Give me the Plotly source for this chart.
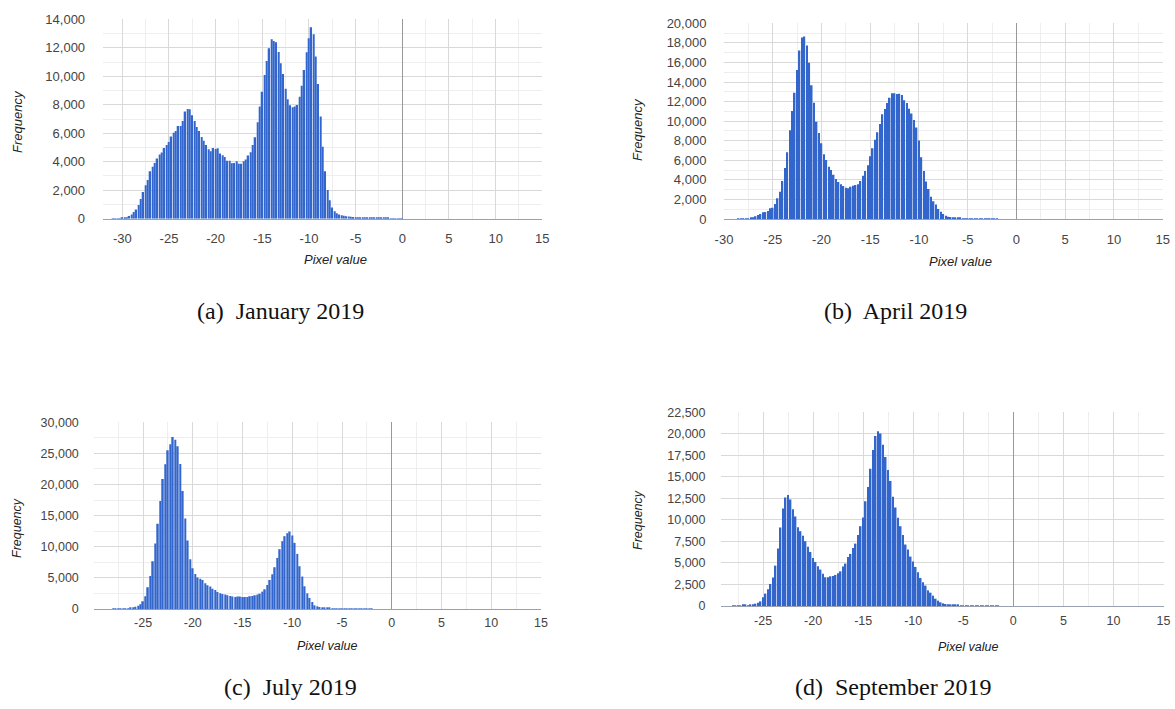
import plotly.graph_objects as go

W, H = 1175, 709
BIN_WIDTH = 0.25

# ---- data (bin counts, 0.25-wide bins, first bin centre given by *_start) ----
jan_start = -31.0
jan_counts = [10, 10, 20, 20, 30,
              50, 100, 190, 300, 470, 650, 960, 1380, 1870, 2340,
              2720, 3330, 3650, 3910, 4220, 4500, 4640, 4960, 5180, 5390,
              5780, 6040, 6160, 6510, 6510, 6860, 7520, 7700, 7680, 7260,
              6860, 6440, 6160, 5740, 5480, 5180, 4870, 4730, 4960, 4890,
              4940, 4570, 4450, 4330, 4070, 4070, 3890, 3910, 4030, 3860,
              3860, 4030, 4150, 4430, 4660, 5180, 5710, 6770, 7870, 8920,
              10090, 11080, 11970, 12600, 12480, 12390, 11710, 10910, 10160, 9130,
              8380, 7960, 7820, 7870, 7990, 8570, 9340, 10440, 11690, 12670,
              13440, 12950, 11380, 9460, 7170, 5060, 3330, 2010,
              1300, 780, 520, 380, 300, 250, 210, 180, 160, 140,
              125, 110, 100, 90, 80, 70, 65, 60, 55, 50,
              45, 40, 38, 35, 32, 30, 28, 25, 22, 20, 18, 15]

apr_start = -28.5
apr_counts = [10, 15, 20,
              30, 70, 100, 170, 270, 410, 510, 680, 720, 820,
              1090, 1160, 1530, 2110, 2790, 3880, 5210, 6810, 9060, 11040,
              12910, 15230, 17210, 18540, 18640, 17720, 15980, 13660, 11890, 9950,
              8790, 7730, 6610, 6030, 5350, 5010, 4530, 4090, 3780, 3540,
              3370, 3200, 3130, 3300, 3410, 3480, 3540, 3880, 4430, 4910,
              5490, 6410, 7220, 8110, 8860, 9710, 10700, 11240, 11860, 12400,
              12850, 12850, 12780, 12810, 12670, 12130, 11860, 11280, 10770, 10120,
              9340, 8010, 6300, 4910, 3820, 3070, 2280, 1810, 1470, 1020,
              750, 510, 340, 240, 200, 170, 140, 100, 100, 70,
              60, 50, 45, 40, 35, 30, 28, 25, 22, 20, 18, 15, 12, 10]

jul_start = -28.0
jul_counts = [20, 25, 30, 40,
              50, 50, 100, 160, 210, 380, 540, 750, 1230, 2040,
              3490, 5310, 7680, 10520, 13690, 17340, 20880, 23240, 25500, 26460,
              27640, 27210, 26140, 23300, 18950, 14550, 11000, 8000, 6550, 5640,
              5050, 4880, 4670, 4130, 3810, 3600, 3270, 3060, 2740, 2520,
              2420, 2310, 2200, 2090, 1990, 1930, 1990, 1990, 1930, 1930,
              1930, 2040, 2090, 2200, 2310, 2470, 2790, 3170, 3860, 4670,
              5580, 6710, 8210, 9610, 10900, 11700, 12180, 12450, 11810, 10630,
              8860, 6870, 5210, 3650, 2520, 1770, 1130, 590, 430, 320,
              270, 210, 160, 160, 110, 100, 100, 80,
              70, 60, 55, 50, 45, 40, 35, 30, 28, 25, 20, 18, 15]

sep_start = -28.0
sep_counts = [30, 60, 80,
              40, 120, 160, 80, 120, 160, 270, 390, 540, 1010,
              1440, 1940, 2560, 3300, 4690, 6670, 9120, 11330, 12610, 12880,
              12370, 11250, 10400, 9150, 8690, 8150, 7530, 6870, 6280, 5590,
              5120, 4620, 4230, 3760, 3340, 3340, 3450, 3490, 3610, 3800,
              4030, 4580, 4930, 5700, 6050, 6750, 7250, 8260, 9270, 10280,
              12180, 13810, 15940, 18110, 19740, 20290, 20050, 18740, 17300, 15790,
              14510, 12680, 11440, 10240, 9270, 8260, 7140, 6560, 5740, 5160,
              4540, 3920, 3260, 2750, 2370, 1820, 1550, 1200, 850, 620,
              430, 310, 230, 160, 160, 120, 120, 120, 80, 80,
              80, 40, 40, 40,
              35, 30, 28, 25, 22, 20, 18, 15, 12, 10]

captions = ["(a)\u00a0 January 2019", "(b)\u00a0 April 2019",
            "(c)\u00a0 July 2019", "(d)\u00a0 September 2019"]
x_ticks = [-30, -25, -20, -15, -10, -5, 0, 5, 10, 15]
x_tick_labels = ["-30", "-25", "-20", "-15", "-10", "-5", "0", "5", "10", "15"]
jan_y_ticks = [0, 2000, 4000, 6000, 8000, 10000, 12000, 14000]
apr_y_ticks = [0, 2000, 4000, 6000, 8000, 10000, 12000, 14000, 16000, 18000, 20000]
jul_y_ticks = [0, 5000, 10000, 15000, 20000, 25000, 30000]
sep_y_ticks = [0, 2500, 5000, 7500, 10000, 12500, 15000, 17500, 20000, 22500]
x_title = "Pixel value"
y_title = "Frequency"

# ---- layout (pixel boxes of each plot area) ----
panels = [
    dict(counts=jan_counts, start=jan_start, yt=jan_y_ticks, box=(102.7, 542.3, 19.3, 218.7),
         xr=[-32.1, 15], yminor=1000, fs=13, xtl=8, ytl=14,
         ytitle=(18, 122), xtitle=(335, 259), cap=(280, 311)),
    dict(counts=apr_counts, start=apr_start, yt=apr_y_ticks, box=(724, 1162.7, 23.3, 219),
         xr=[-30, 15], yminor=1000, fs=13, xtl=8, ytl=14,
         ytitle=(638, 130), xtitle=(960, 261), cap=(895, 311)),
    dict(counts=jul_counts, start=jul_start, yt=jul_y_ticks, box=(94.3, 541, 422.3, 609),
         xr=[-29.9, 15], yminor=2500, fs=12.5, xtl=2, ytl=12,
         ytitle=(17, 528), xtitle=(327, 646), cap=(290, 687)),
    dict(counts=sep_counts, start=sep_start, yt=sep_y_ticks, box=(721, 1163.5, 412.3, 606),
         xr=[-29.2, 15], yminor=None, fs=12.5, xtl=3, ytl=12,
         ytitle=(638, 520), xtitle=(968, 647), cap=(893, 687)),
]

SANS = "Liberation Sans, Arial, sans-serif"
SERIF = "Liberation Serif, Times New Roman, serif"
BAR = "#3366cc"
GRID = "#d9d9d9"
MINOR = "#eeeeee"

fig = go.Figure()
annotations = []
layout = {}
for i, p in enumerate(panels):
    n = i + 1
    sfx = "" if n == 1 else str(n)
    xs = [p["start"] + BIN_WIDTH * j for j in range(len(p["counts"]))]
    fig.add_trace(go.Bar(x=xs, y=p["counts"], xaxis="x" + sfx, yaxis="y" + sfx,
                         width=BIN_WIDTH * 0.62,
                         marker=dict(color=BAR, line=dict(width=0)),
                         showlegend=False, hoverinfo="x+y"))
    L, R, T, B = p["box"]
    layout["xaxis" + sfx] = dict(
        domain=[L / W, R / W], range=p["xr"], anchor="y" + sfx, automargin=False,
        tickmode="array", tickvals=x_ticks, ticktext=x_tick_labels,
        ticks="outside", ticklen=p["xtl"], tickcolor="rgba(0,0,0,0)",
        showgrid=True, gridcolor=GRID, gridwidth=1,
        minor=dict(dtick=2.5, tick0=0, showgrid=True, gridcolor=MINOR, ticks=""),
        zeroline=True, zerolinecolor="#999999", zerolinewidth=1,
        showline=True, linecolor="#9aa0b0", linewidth=1,
        tickfont=dict(family=SANS, size=p["fs"], color="#444"),
        fixedrange=True,
    )
    ya = dict(
        domain=[1 - B / H, 1 - T / H], range=[0, p["yt"][-1]], anchor="x" + sfx, automargin=False,
        tickmode="array", tickvals=p["yt"], tickformat=",d",
        ticks="outside", ticklen=p["ytl"], tickcolor="rgba(0,0,0,0)",
        showgrid=True, gridcolor=GRID, gridwidth=1,
        zeroline=False, showline=False,
        tickfont=dict(family=SANS, size=p["fs"], color="#444"),
        fixedrange=True,
    )
    if p["yminor"]:
        ya["minor"] = dict(dtick=p["yminor"], tick0=0, showgrid=True, gridcolor=MINOR, ticks="")
    layout["yaxis" + sfx] = ya

    tx, ty = p["ytitle"]
    annotations.append(dict(text="<i>" + y_title + "</i>", x=tx / W, y=1 - ty / H, xref="paper", yref="paper",
                            xanchor="center", yanchor="middle", textangle=-90, showarrow=False,
                            font=dict(family=SANS, size=p["fs"], color="#222")))
    tx, ty = p["xtitle"]
    annotations.append(dict(text="<i>" + x_title + "</i>", x=tx / W, y=1 - ty / H, xref="paper", yref="paper",
                            xanchor="center", yanchor="middle", showarrow=False,
                            font=dict(family=SANS, size=p["fs"], color="#222")))
    cx, cy = p["cap"]
    annotations.append(dict(text=captions[i], x=cx / W, y=1 - cy / H, xref="paper", yref="paper",
                            xanchor="center", yanchor="middle", showarrow=False,
                            font=dict(family=SERIF, size=24, color="#111")))

fig.update_layout(
    template="none",
    width=W, height=H, autosize=False,
    margin=dict(l=0, r=0, t=0, b=0, pad=0, autoexpand=False),
    paper_bgcolor="white", plot_bgcolor="white",
    bargap=0.3, showlegend=False,
    annotations=annotations,
    **layout,
)
fig.write_html("out.html", config=dict(displayModeBar=False))
